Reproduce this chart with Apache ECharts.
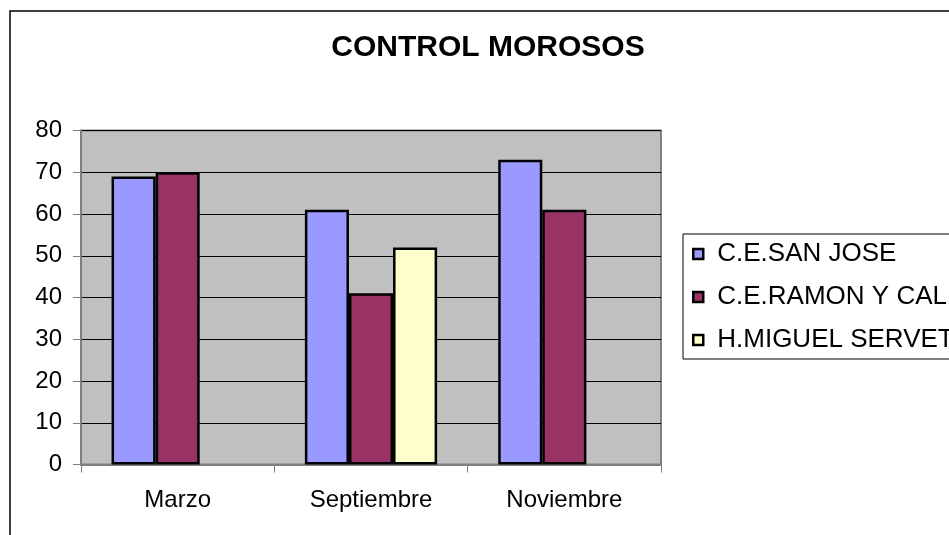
<!DOCTYPE html>
<html>
<head>
<meta charset="utf-8">
<script src="https://cdn.jsdelivr.net/npm/echarts@6/dist/echarts.min.js"></script>
<style>
html,body{margin:0;padding:0;background:#fff;}
#chart{width:949px;height:535px;}
</style>
</head>
<body>
<div id="chart"></div>
<script>
const categories = ['Marzo', 'Septiembre', 'Noviembre'];
const seriesNames = ['C.E.SAN JOSE', 'C.E.RAMON Y CAL', 'H.MIGUEL SERVET'];
const sanJose = [69, 61, 73];
const ramonYCal = [70, 41, 61];
const miguelServet = [null, 52, null];
const colors = ['#9999FF', '#993366', '#FFFFCC'];
const titleText = 'CONTROL MOROSOS';

const FONT = '"Liberation Sans", Arial, sans-serif';
const chart = echarts.init(document.getElementById('chart'), null, {renderer: 'canvas'});

const dataSets = [sanJose, ramonYCal, miguelServet];

chart.setOption({
  animation: false,
  backgroundColor: '#ffffff',
  title: {
    text: titleText,
    left: 488,
    top: 33,
    textAlign: 'center',
    padding: 0,
    textStyle: {fontFamily: FONT, fontSize: 30, fontWeight: 'bold', color: '#000', lineHeight: 30}
  },
  graphic: [{
    type: 'rect',
    shape: {x: 10, y: 11, width: 1000, height: 600},
    style: {fill: 'none', stroke: '#000', lineWidth: 1.5},
    silent: true,
    z: -1
  }],
  legend: {
    orient: 'vertical',
    left: 683,
    top: 234,
    padding: [7, 40, 6, 9],
    itemWidth: 10,
    itemHeight: 10,
    itemGap: 17,
    itemStyle: {borderColor: '#000', borderWidth: 2.5},
    icon: 'rect',
    borderColor: '#000',
    borderWidth: 1,
    backgroundColor: '#fff',
    textStyle: {fontFamily: FONT, fontSize: 26, color: '#000', lineHeight: 26, padding: [0, 0, 0, 9]},
    data: seriesNames
  },
  grid: {
    left: 81,
    right: 288,
    top: 130.5,
    bottom: 70.5,
    show: true,
    backgroundColor: '#C0C0C0',
    borderColor: '#808080',
    borderWidth: 2
  },
  xAxis: {
    type: 'category',
    data: categories,
    axisLine: {show: true, lineStyle: {color: '#808080', width: 2}},
    axisTick: {show: true, length: 8, lineStyle: {color: '#808080', width: 1}},
    axisLabel: {fontFamily: FONT, fontSize: 24, color: '#000', margin: 24}
  },
  yAxis: {
    type: 'value',
    min: 0,
    max: 80,
    interval: 10,
    axisLine: {show: true, lineStyle: {color: '#808080', width: 2}},
    axisTick: {show: true, length: 8, lineStyle: {color: '#808080', width: 1}},
    axisLabel: {fontFamily: FONT, fontSize: 24, color: '#000', margin: 19},
    splitLine: {show: true, lineStyle: {color: '#000', width: 1}}
  },
  series: seriesNames.map((name, i) => ({
    name: name,
    type: 'bar',
    data: dataSets[i],
    barGap: '0%',
    barCategoryGap: '31.6%',
    itemStyle: {color: colors[i], borderColor: '#000', borderWidth: 2.5}
  }))
});
</script>
</body>
</html>
